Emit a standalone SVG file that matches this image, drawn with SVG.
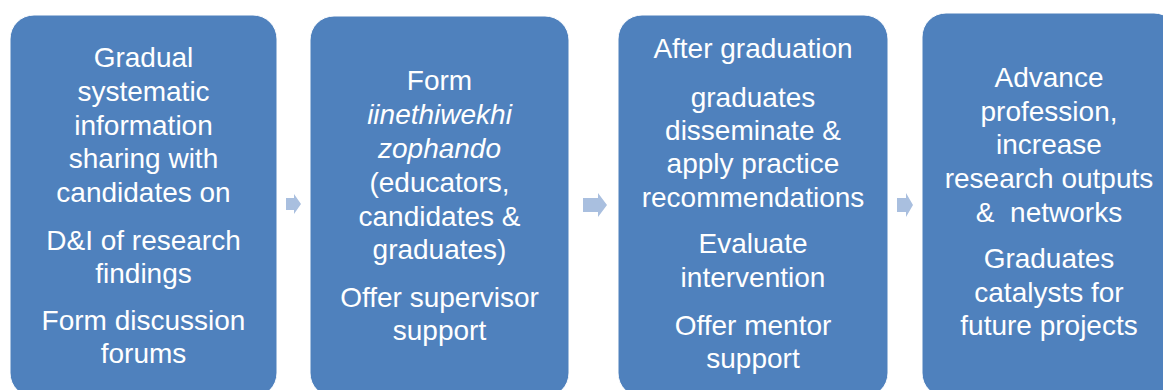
<svg xmlns="http://www.w3.org/2000/svg" width="1163" height="390" viewBox="0 0 1163 390">
<style>
.box{fill:#4F81BD;stroke:#ffffff;stroke-width:1}
.t{font-family:"Liberation Sans",Arial,sans-serif;font-size:28px;fill:#ffffff;text-anchor:middle}
.i{font-style:italic}
.arr{fill:#A9BFDF}
</style>
<rect width="1163" height="390" fill="#ffffff"/>
<g id="node1">
<rect class="box" x="10" y="15" width="267" height="382" rx="24"/>
<text class="t"><tspan x="143.5" y="67">Gradual</tspan><tspan x="143.5" y="101">systematic</tspan><tspan x="143.5" y="135">information</tspan><tspan x="143.5" y="168">sharing with</tspan><tspan x="143.5" y="202">candidates on</tspan><tspan x="143.5" y="250">D&amp;I of research</tspan><tspan x="143.5" y="283">findings</tspan><tspan x="143.5" y="330">Form discussion</tspan><tspan x="143.5" y="363">forums</tspan></text>
</g>
<g id="node2">
<rect class="box" x="310" y="16" width="259" height="381" rx="24"/>
<text class="t"><tspan x="439.5" y="90">Form</tspan><tspan class="i" x="439.5" y="124">iinethiwekhi</tspan><tspan class="i" x="439.5" y="158">zophando</tspan><tspan x="439.5" y="192">(educators,</tspan><tspan x="439.5" y="226">candidates &amp;</tspan><tspan x="439.5" y="259">graduates)</tspan><tspan x="439.5" y="307">Offer supervisor</tspan><tspan x="439.5" y="340">support</tspan></text>
</g>
<g id="node3">
<rect class="box" x="618" y="15" width="270" height="382" rx="24"/>
<text class="t"><tspan x="753" y="58">After graduation</tspan><tspan x="753" y="107">graduates</tspan><tspan x="753" y="140">disseminate &amp;</tspan><tspan x="753" y="173">apply practice</tspan><tspan x="753" y="207">recommendations</tspan><tspan x="753" y="253">Evaluate</tspan><tspan x="753" y="287">intervention</tspan><tspan x="753" y="335">Offer mentor</tspan><tspan x="753" y="368">support</tspan></text>
</g>
<g id="node4">
<rect class="box" x="922" y="13" width="256" height="384" rx="24"/>
<text class="t"><tspan x="1049" y="87">Advance</tspan><tspan x="1049" y="121">profession,</tspan><tspan x="1049" y="154">increase</tspan><tspan x="1049" y="188">research outputs</tspan><tspan x="1049" y="222" style="white-space:pre">&amp;  networks</tspan><tspan x="1049" y="268">Graduates</tspan><tspan x="1049" y="302">catalysts for</tspan><tspan x="1049" y="335">future projects</tspan></text>
</g>
<g id="connectors">
<polygon class="arr" points="286,198 294,198 294,194 301,204 294,214 294,210 286,210"/>
<polygon class="arr" points="583,198 598,198 598,193 607,205 598,217 598,212 583,212"/>
<polygon class="arr" points="897,198 906,198 906,193 913,205 906,217 906,212 897,212"/>
</g>
</svg>
